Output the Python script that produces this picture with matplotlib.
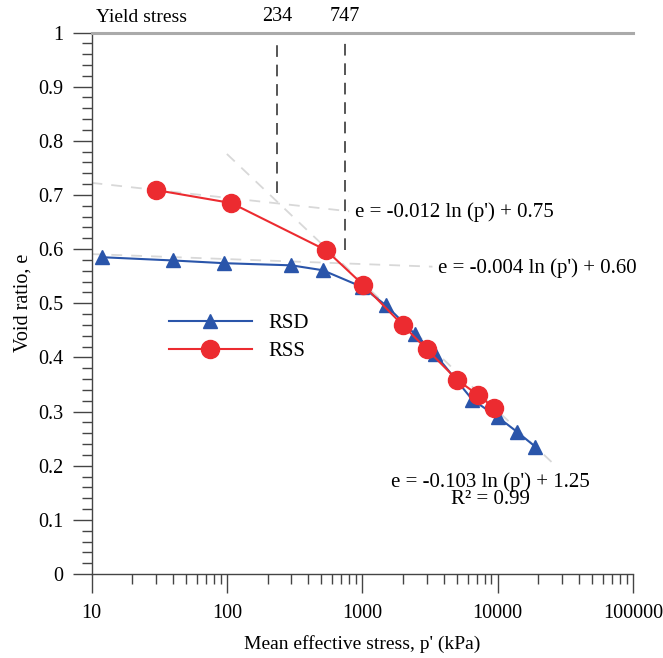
import numpy as np
import matplotlib
matplotlib.use("Agg")
import matplotlib.pyplot as plt
import matplotlib.transforms as mtransforms
from matplotlib.ticker import LogLocator, FixedLocator, MultipleLocator, NullFormatter

plt.rcParams['font.family'] = ['Liberation Serif', 'DejaVu Serif']

# ---- data ----
rsd_p = [12, 40, 95, 300, 510, 1000, 1500, 2450, 3450, 6500, 10000, 14000, 19000]
rsd_e = [0.585, 0.579, 0.574, 0.570, 0.561, 0.530, 0.496, 0.443, 0.406, 0.322, 0.290, 0.262, 0.235]

rss_p = [30, 108, 540, 1015, 2000, 3000, 5000, 7200, 9400]
rss_e = [0.709, 0.685, 0.598, 0.534, 0.459, 0.415, 0.359, 0.330, 0.307]

# fitted lines: (slope, intercept, p_start, p_end)
fit_slopes = [-0.012, -0.004, -0.103]
fit_intercepts = [0.75, 0.60, 1.25]
fit_ranges = [(10, 800), (10, 3300), (100, 25000)]
fit_labels = ["e = -0.012 ln (p') + 0.75", "e = -0.004 ln (p') + 0.60",
              "e = -0.103 ln (p') + 1.25\nR² = 0.99"]

yield_stress = [234, 747]
yield_e_end = [0.703, 0.598]

x_ticks = [10, 100, 1000, 10000, 100000]
x_ticklabels = ['10', '100', '1000', '10000', '100000']
y_ticks = [0, 0.1, 0.2, 0.3, 0.4, 0.5, 0.6, 0.7, 0.8, 0.9, 1]
y_ticklabels = ['0', '0.1', '0.2', '0.3', '0.4', '0.5', '0.6', '0.7', '0.8', '0.9', '1']

# ---- figure ----
fig = plt.figure(figsize=(6.63, 6.58), dpi=100)
ax = fig.add_axes([91.5/663, 1-574/658, (633-91.5)/663, (574-32.5)/658])

ax.set_xscale('log')
ax.set_xlim(10, 100000)
ax.set_ylim(0, 1)

# fitted dashed lines
for s, b, (p0, p1) in zip(fit_slopes, fit_intercepts, fit_ranges):
    pp = np.logspace(np.log10(p0), np.log10(p1), 50)
    ax.plot(pp, s*np.log(pp) + b, color='#d8d8d8', lw=1.3, ls=(0, (6, 5)), zorder=1)

# yield stress verticals
for p, e1 in zip(yield_stress, yield_e_end):
    ax.plot([p, p], [e1, 0.985], color='#555555', lw=1.4, ls=(0, (6, 4)), zorder=1)

blue = '#2a55aa'
red = '#ec2b30'
ax.plot(rsd_p, rsd_e, color=blue, lw=1.5, marker='^', ms=10, mec=blue, mfc=blue,
        label='RSD', zorder=3, clip_on=False)
ax.plot(rss_p, rss_e, color=red, lw=1.5, marker='o', ms=13, mec=red, mfc=red,
        label='RSS', zorder=4, clip_on=False)

# annotations
fs_ann = 15
ax.text(880, 0.668, fit_labels[0], fontsize=fs_ann, va='center', ha='left')
ax.text(3620, 0.565, fit_labels[1], fontsize=fs_ann, va='center', ha='left')
ax.text(8800, 0.154, fit_labels[2], fontsize=fs_ann, va='center', ha='center',
        multialignment='center', linespacing=0.9)

trans = mtransforms.blended_transform_factory(ax.transData, ax.transAxes)
for p in yield_stress:
    ax.text(p, 1.012, str(p), transform=trans, ha='center', va='bottom', fontsize=14.5)
ax.text(0.009, 1.012, 'Yield stress', transform=ax.transAxes, ha='left', va='bottom', fontsize=14)

# axes styling
ax.spines['right'].set_visible(False)
ax.spines['top'].set_color('#aaaaaa')
ax.spines['top'].set_linewidth(2.2)
ax.spines['left'].set_color('#444444')
ax.spines['bottom'].set_color('#444444')
ax.spines['left'].set_linewidth(1.0)
ax.spines['bottom'].set_linewidth(1.0)

ax.xaxis.set_major_locator(FixedLocator(x_ticks))
ax.set_xticklabels(x_ticklabels)
ax.xaxis.set_minor_locator(LogLocator(base=10, subs=np.arange(2, 10)))
ax.xaxis.set_minor_formatter(NullFormatter())
ax.yaxis.set_major_locator(FixedLocator(y_ticks))
ax.set_yticklabels(y_ticklabels)
ax.yaxis.set_minor_locator(MultipleLocator(0.02))

ax.tick_params(axis='both', which='major', direction='out', length=13.5, width=1.0,
               color='#444444', labelsize=14.5)
ax.tick_params(axis='both', which='minor', direction='out', length=7.5, width=1.0,
               color='#444444')
ax.tick_params(axis='x', which='major', pad=8)
ax.tick_params(axis='y', which='major', pad=6.5)

ax.set_xlabel("Mean effective stress, p' (kPa)", fontsize=14, labelpad=9)
ax.set_ylabel("Void ratio, e", fontsize=14.5, labelpad=4)

leg = ax.legend(loc='upper left', bbox_to_anchor=(0.108, 0.515), frameon=False,
                fontsize=15, handlelength=4.0, handletextpad=0.8, labelspacing=0.4)

fig.savefig('out.png', dpi=100)
